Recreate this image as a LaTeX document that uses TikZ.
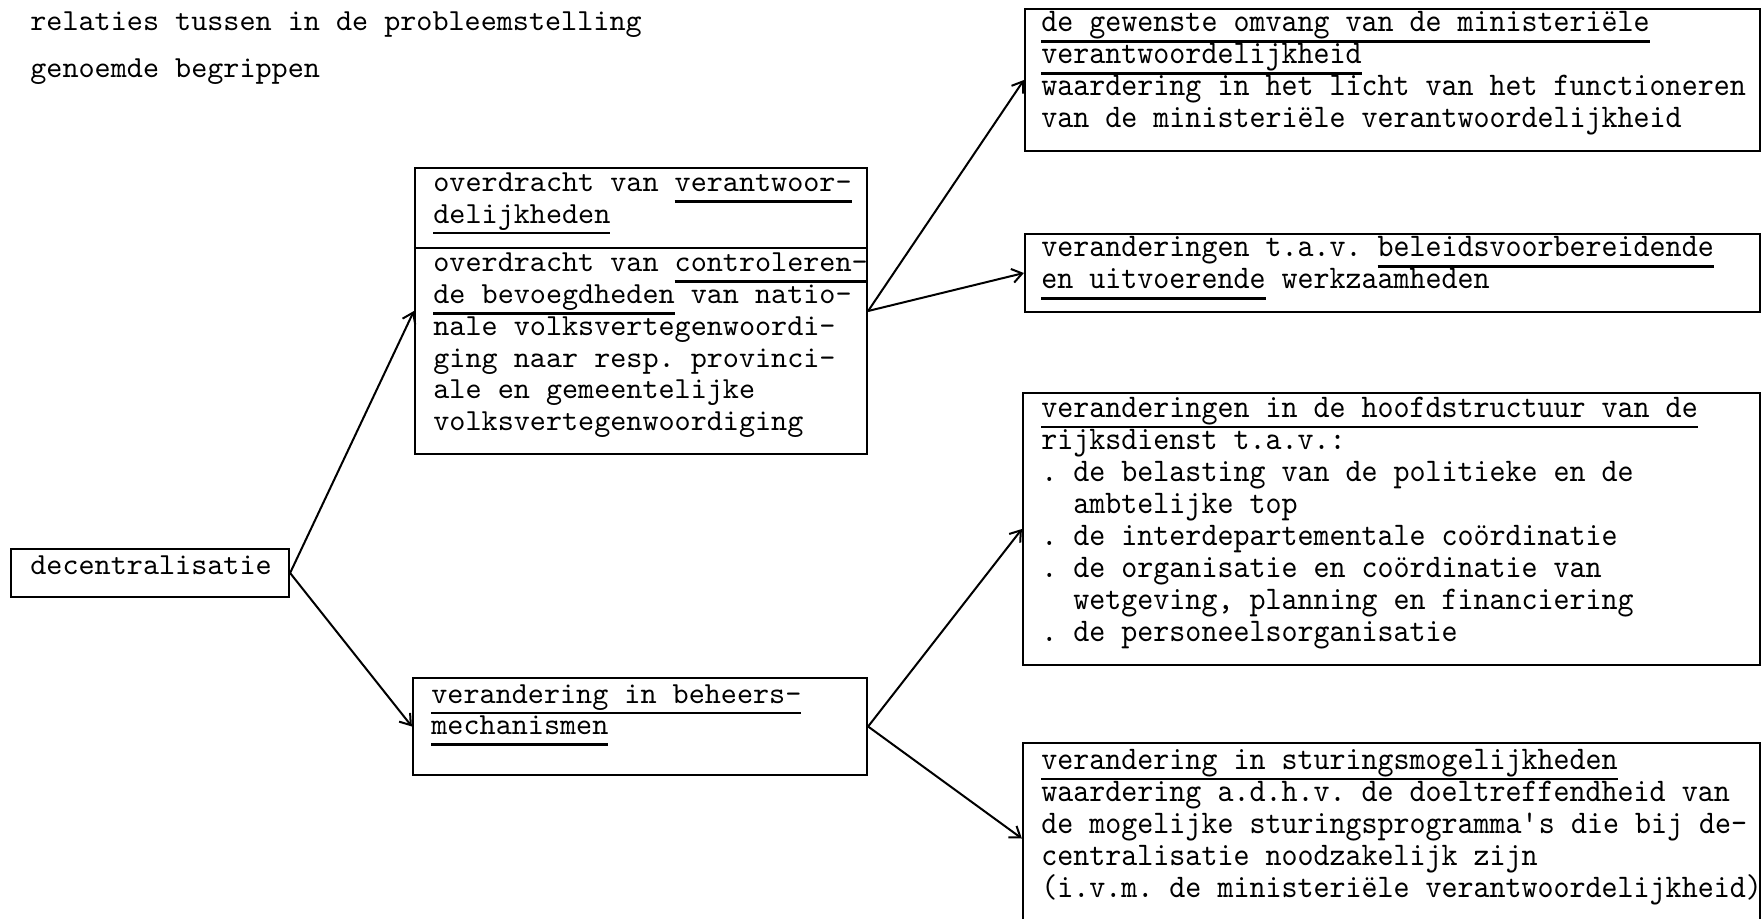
\documentclass[tikz,border=0pt]{standalone}
\usepackage{fontspec}
\usetikzlibrary{arrows.meta,fit,calc}
\newfontfamily\lfont{lmmono10-regular.otf}
\newfontfamily\rfont[FakeStretch=0.924]{lmmono10-regular.otf}
\newcommand\lsize{\lfont\fontsize{15.32}{15.85}\selectfont\lineskiplimit=-30pt\lineskip=0pt\frenchspacing}
\newcommand\rsize{\rfont\fontsize{16.5}{16}\selectfont\lineskiplimit=-30pt\lineskip=0pt\frenchspacing}
\newcommand\ul[1]{\leavevmode\setbox0\hbox{#1}\rlap{\rule[-5.4pt]{\wd0}{1.15pt}}\box0\relax}
\newcommand\ltext[1]{\parbox[t]{240pt}{\lsize\raggedright\leavevmode #1}}
\newcommand\rtext[1]{\parbox[t]{370pt}{\rsize\raggedright\leavevmode #1}}
\begin{document}
\begin{tikzpicture}[x=0.5pt,y=-0.5pt,
  box/.style={draw,line width=1.1pt,inner sep=0pt},
  txt/.style={inner sep=0pt,anchor=base west},
  conn/.style={line width=1pt,-{Straight Barb[length=5pt,width=7pt]}}]
\useasboundingbox (0,0) rectangle (1764,919);
\clip (0,0) rectangle (1764,919);

\node[txt] (t1) at (30,31) {\lsize relaties tussen in de probleemstelling};
\node[txt] (t2) at (30,78) {\lsize genoemde begrippen};

\node[box,fit={(11,549)(289,597)}] (dec) {};
\node[txt] (dect) at (30,574) {\lsize decentralisatie};

\node[box,fit={(415,168)(867,454)}] (m1) {};
\coordinate (dv) at (0,248);
\draw[line width=1.1pt] (m1.west |- dv) -- (m1.east |- dv);
\node[txt] (m1a) at (433,192) {\ltext{overdracht van \ul{verantwoor-}\\\ul{delijkheden}}};
\node[txt] (m1b) at (433,272) {\ltext{overdracht van \ul{controleren-}\\\ul{de bevoegdheden} van natio-\\nale volksvertegenwoordi-\\ging naar resp. provinci-\\ale en gemeentelijke\\volksvertegenwoordiging}};

\node[box,fit={(413,678)(867,775)}] (m2) {};
\node[txt] (m2t) at (431,703) {\ltext{\ul{verandering in beheers-}\\\ul{mechanismen}}};

\node[box,fit={(1025,9)(1760,151)}] (r1) {};
\node[txt] (r1t) at (1041,32) {\rtext{\ul{de gewenste omvang van de ministeriële}\\\ul{verantwoordelijkheid}\\waardering in het licht van het functioneren\\van de ministeriële verantwoordelijkheid}};

\node[box,fit={(1025,234)(1760,312)}] (r2) {};
\node[txt] (r2t) at (1041,257) {\rtext{veranderingen t.a.v. \ul{beleidsvoorbereidende}\\\ul{en uitvoerende} werkzaamheden}};

\node[box,fit={(1023,393)(1760,665)}] (r3) {};
\node[txt] (r3t) at (1041,417) {\rtext{\ul{veranderingen in de hoofdstructuur van de}\\rijksdienst t.a.v.:\\. de belasting van de politieke en de\\\phantom{. }ambtelijke top\\. de interdepartementale coördinatie\\. de organisatie en coördinatie van\\\phantom{. }wetgeving, planning en financiering\\. de personeelsorganisatie}};

\node[box,fit={(1023,743)(1760,934)}] (r4) {};
\node[txt] (r4t) at (1041,769) {\rtext{\ul{verandering in sturingsmogelijkheden}\\waardering a.d.h.v. de doeltreffendheid van\\de mogelijke sturingsprogramma\textquotesingle s die bij de-\\centralisatie noodzakelijk zijn\\(i.v.m. de ministeriële verantwoordelijkheid)}};

\draw[conn] (dec.east) -- (m1.west);
\draw[conn] (dec.east) -- (m2.west);
\draw[conn] (m1.east) -- (r1.west);
\draw[conn] (m1.east) -- (r2.west);
\draw[conn] (m2.east) -- (r3.west);
\draw[conn] (m2.east) -- (r4.west);
\end{tikzpicture}
\end{document}
